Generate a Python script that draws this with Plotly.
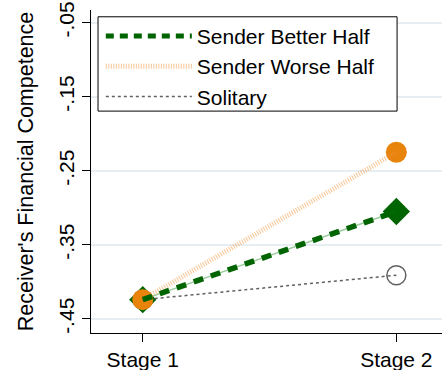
import plotly.graph_objects as go

stages = [1, 2]
stage_labels = ["Stage 1", "Stage 2"]
better_half = [-0.424, -0.305]
worse_half = [-0.424, -0.225]
solitary = [-0.424, -0.391]
y_ticks = [-0.45, -0.35, -0.25, -0.15, -0.05]
y_tick_labels = ["-.45", "-.35", "-.25", "-.15", "-.05"]

GREEN = "#006400"
ORANGE = "#e8830c"
GRAY = "#606060"
FONT = "Liberation Sans, Arial, sans-serif"

fig = go.Figure()

# markers
fig.add_trace(go.Scatter(x=stages, y=solitary, mode="markers", showlegend=False,
                         marker=dict(symbol="circle-open", size=19, color=GRAY, line=dict(width=1.5, color=GRAY))))
fig.add_trace(go.Scatter(x=stages, y=better_half, mode="markers", showlegend=False,
                         marker=dict(symbol="diamond", size=21, color=GREEN)))
fig.add_trace(go.Scatter(x=stages, y=worse_half, mode="markers", showlegend=False,
                         marker=dict(symbol="circle", size=21, color=ORANGE)))

# lines
fig.add_trace(go.Scatter(x=stages, y=solitary, mode="lines", showlegend=False,
                         line=dict(color=GRAY, width=1.5, dash="3px,3px")))
fig.add_trace(go.Scatter(x=stages, y=worse_half, mode="lines", showlegend=False,
                         line=dict(color="rgba(240,150,60,0.55)", width=5, dash="1px,1.5px")))
fig.add_trace(go.Scatter(x=stages, y=better_half, mode="lines", showlegend=False,
                         line=dict(color="rgba(0,128,0,0.4)", width=1.5)))
fig.add_trace(go.Scatter(x=stages, y=better_half, mode="lines", showlegend=False,
                         line=dict(color=GREEN, width=5.5, dash="10px,8px")))

# legend-only entries
fig.add_trace(go.Scatter(x=[None], y=[None], mode="lines", name="Sender Better Half",
                         line=dict(color=GREEN, width=5, dash="8px,6px")))
fig.add_trace(go.Scatter(x=[None], y=[None], mode="lines", name="Sender Worse Half",
                         line=dict(color="rgba(240,150,60,0.55)", width=5, dash="1px,1.5px")))
fig.add_trace(go.Scatter(x=[None], y=[None], mode="lines", name="Solitary",
                         line=dict(color=GRAY, width=1.5, dash="3px,3px")))

fig.update_layout(
    width=442, height=370,
    margin=dict(l=91, r=0, t=10, b=37, autoexpand=False),
    paper_bgcolor="white", plot_bgcolor="white",
    font=dict(family=FONT, size=21, color="black"),
    showlegend=True,
    legend=dict(x=0.028, y=0.982, xanchor="left", yanchor="top",
                borderwidth=0, bgcolor="rgba(0,0,0,0)",
                itemwidth=86, font=dict(size=21), tracegroupgap=0),
    shapes=[dict(type="rect", xref="paper", yref="paper", x0=0.02, x1=0.872, y0=0.687, y1=0.979,
                 line=dict(color="black", width=1), fillcolor="white", layer="above")],
    xaxis=dict(range=[0.796, 2.18], tickvals=stages, ticktext=stage_labels, automargin=False,
               showgrid=False, zeroline=False, showline=True, linecolor="black", linewidth=1,
               ticks="outside", ticklen=8, tickcolor="black", tickfont=dict(size=21)),
    yaxis=dict(range=[-0.469, -0.033], tickvals=y_ticks, ticktext=y_tick_labels, automargin=False,
               tickangle=-90, showgrid=True, gridcolor="#e6eef2", gridwidth=2,
               zeroline=False, showline=True, linecolor="black", linewidth=1,
               ticks="outside", ticklen=8, tickcolor="black", tickfont=dict(size=21),
               title=dict(text="Receiver's Financial Competence", font=dict(size=21.5))),
)

fig.write_html("out.html", config={"displayModeBar": False},
               post_script="document.body.style.margin='0';document.body.style.padding='0';")
